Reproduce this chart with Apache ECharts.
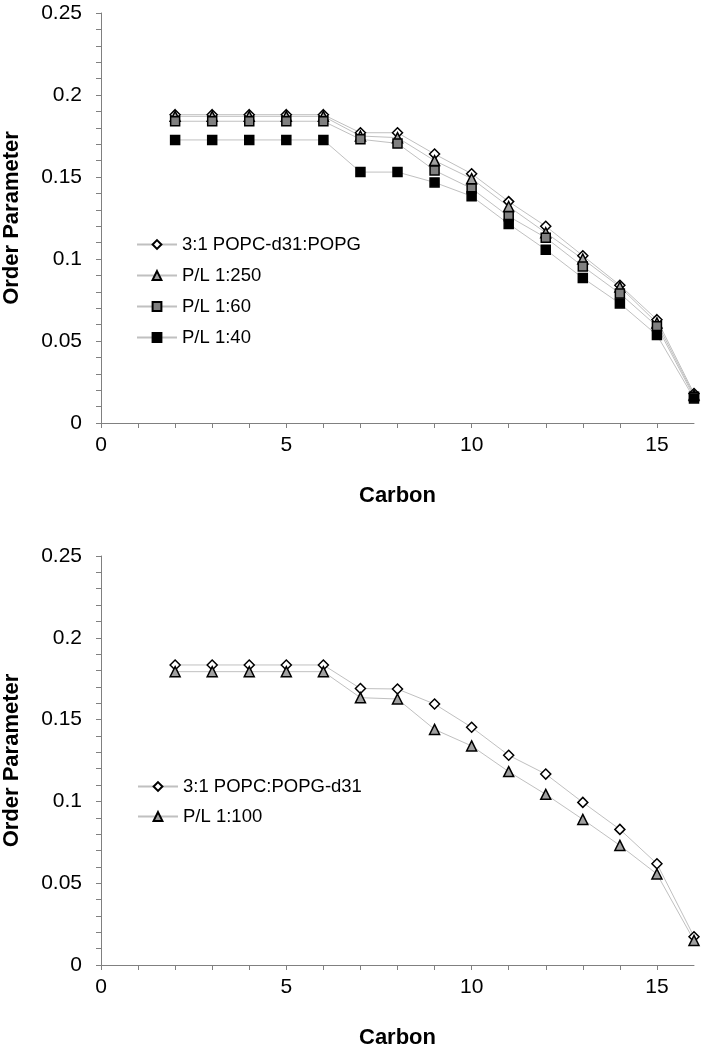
<!DOCTYPE html>
<html>
<head>
<meta charset="utf-8">
<script src="https://cdn.jsdelivr.net/npm/echarts@6/dist/echarts.min.js"></script>
<style>
html,body{margin:0;padding:0;background:#fff;}
#chart{width:710px;height:1050px;}
</style>
</head>
<body>
<div id="chart"></div>
<script>
const carbons = [2, 3, 4, 5, 6, 7, 8, 9, 10, 11, 12, 13, 14, 15, 16];

// Top panel
const topNames = ['3:1 POPC-d31:POPG', 'P/L 1:250', 'P/L 1:60', 'P/L 1:40'];
const topControl = [0.188, 0.188, 0.188, 0.188, 0.188, 0.177, 0.177, 0.164, 0.152, 0.135, 0.120, 0.102, 0.084, 0.063, 0.018];
const topPL250 = [0.187, 0.187, 0.187, 0.187, 0.187, 0.175, 0.174, 0.160, 0.149, 0.132, 0.116, 0.100, 0.083, 0.061, 0.017];
const topPL60 = [0.184, 0.184, 0.184, 0.184, 0.184, 0.173, 0.1705, 0.154, 0.143, 0.126, 0.113, 0.0955, 0.079, 0.059, 0.016];
const topPL40 = [0.1726, 0.1726, 0.1726, 0.1726, 0.1726, 0.153, 0.153, 0.1467, 0.1383, 0.1214, 0.1057, 0.0884, 0.0729, 0.0536, 0.015];

// Bottom panel
const botNames = ['3:1 POPC:POPG-d31', 'P/L 1:100'];
const botControl = [0.1834, 0.1834, 0.1834, 0.1834, 0.1834, 0.169, 0.1687, 0.1595, 0.1453, 0.1282, 0.1167, 0.0994, 0.0829, 0.0619, 0.0173];
const botPL100 = [0.1793, 0.1793, 0.1793, 0.1793, 0.1793, 0.1634, 0.1626, 0.144, 0.1339, 0.1182, 0.1043, 0.0890, 0.0731, 0.0556, 0.015];

// Axis ticks
const xMin = 0, xMax = 16, xStep = 1;
const yMin = 0, yMax = 0.25, yStep = 0.01;

const FONT = '"Liberation Sans", Arial, sans-serif';
const axisColor = '#808080';

function pair(ys) { return carbons.map((c, i) => [c, ys[i]]); }

function xAxis(gi) {
  return {
    type: 'value', gridIndex: gi, min: xMin, max: xMax, interval: xStep,
    name: 'Carbon', nameLocation: 'middle', nameGap: 62,
    nameTextStyle: { fontFamily: FONT, fontSize: 22, fontWeight: 'bold', color: '#000' },
    axisLine: { show: true, onZero: false, lineStyle: { color: axisColor, width: 1 } },
    axisTick: { show: true, length: 5, inside: false, lineStyle: { color: axisColor } },
    axisLabel: {
      fontFamily: FONT, fontSize: 21, color: '#000', margin: 12,
      showMaxLabel: false,
      formatter: v => (Math.round(v) % 5 === 0 && v < 16) ? String(Math.round(v)) : ''
    },
    splitLine: { show: false }
  };
}

function yAxis(gi) {
  return {
    type: 'value', gridIndex: gi, min: yMin, max: yMax, interval: yStep,
    name: 'Order Parameter', nameLocation: 'middle', nameGap: 78, nameRotate: 90,
    nameTextStyle: { fontFamily: FONT, fontSize: 22, fontWeight: 'bold', color: '#000' },
    axisLine: { show: true, lineStyle: { color: axisColor, width: 1 } },
    axisTick: { show: true, length: 5, inside: false, lineStyle: { color: axisColor } },
    axisLabel: {
      fontFamily: FONT, fontSize: 21, color: '#000', margin: 19,
      formatter: v => {
        const k = Math.round(v * 100);
        if (k % 5 !== 0) return '';
        return String(k / 100);
      }
    },
    splitLine: { show: false }
  };
}

const lineStyle = { color: '#c0c0c0', width: 1 };
function series(name, ys, gi, symbol, size, fill) {
  return {
    name, type: 'line', xAxisIndex: gi, yAxisIndex: gi,
    data: pair(ys), symbol, symbolSize: size, showAllSymbol: true,
    lineStyle, itemStyle: { color: fill, borderColor: '#000', borderWidth: 1.5 },
    emphasis: { disabled: true }, z: 3, animation: false
  };
}

const option = {
  backgroundColor: '#fff',
  animation: false,
  grid: [
    { left: 101, top: 13, width: 593, height: 410, containLabel: false, outerBoundsMode: 'none' },
    { left: 101, top: 556, width: 593, height: 409, containLabel: false, outerBoundsMode: 'none' }
  ],
  xAxis: [xAxis(0), xAxis(1)],
  yAxis: [yAxis(0), yAxis(1)],
  legend: [
    {
      data: topNames, orient: 'vertical', left: 131, top: 230,
      itemWidth: 40, itemHeight: 11, itemGap: 12,
      textStyle: { fontFamily: FONT, fontSize: 18.5, color: '#000' },
      selectedMode: false
    },
    {
      data: botNames, orient: 'vertical', left: 132, top: 772,
      itemWidth: 40, itemHeight: 11, itemGap: 11,
      textStyle: { fontFamily: FONT, fontSize: 18.5, color: '#000' },
      selectedMode: false
    }
  ],
  series: [
    series(topNames[0], topControl, 0, 'diamond', 10, '#fff'),
    series(topNames[1], topPL250, 0, 'triangle', 10, '#a0a0a0'),
    series(topNames[2], topPL60, 0, 'rect', 9, '#808080'),
    series(topNames[3], topPL40, 0, 'rect', 9, '#000'),
    series(botNames[0], botControl, 1, 'diamond', 10, '#fff'),
    series(botNames[1], botPL100, 1, 'triangle', 10, '#a0a0a0')
  ]
};

const chart = echarts.init(document.getElementById('chart'), null, { renderer: 'canvas' });
chart.setOption(option);
</script>
</body>
</html>
